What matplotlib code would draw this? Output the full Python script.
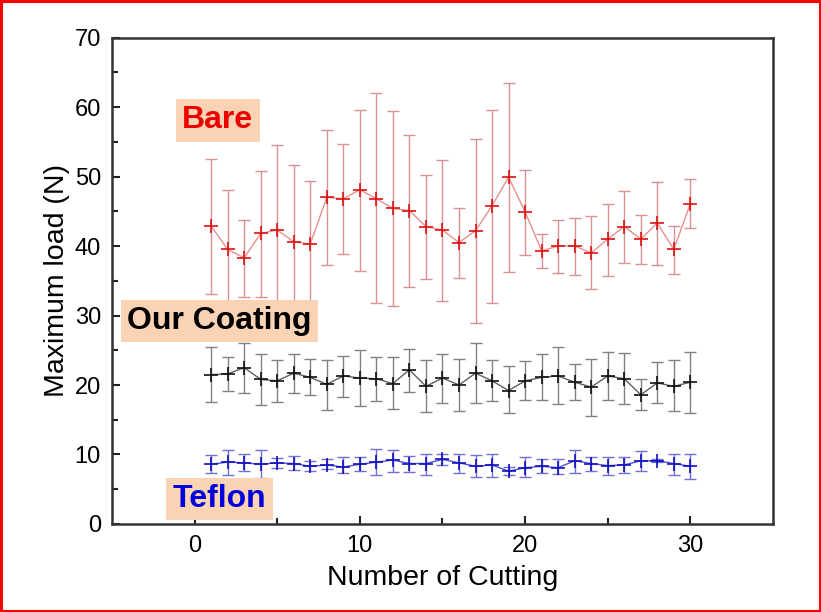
import numpy as np
import matplotlib
matplotlib.use("Agg")
import matplotlib.pyplot as plt
from matplotlib.patches import Rectangle

plt.rcParams['font.family'] = ['Liberation Sans', 'DejaVu Sans']

cuts = list(range(1, 31))

bare_mean = [42.9, 39.5, 38.3, 41.8, 42.3, 40.6, 40.3, 47.0, 46.8, 48.1,
             46.8, 45.4, 45.1, 42.8, 42.3, 40.5, 42.2, 45.8, 49.9, 44.9,
             39.3, 40.0, 40.0, 39.0, 41.0, 42.8, 41.0, 43.3, 39.5, 46.1]
bare_top = [52.5, 48.1, 43.8, 50.8, 54.6, 51.7, 49.3, 56.7, 54.7, 59.6,
            62.0, 59.4, 56.0, 50.2, 52.4, 45.5, 55.4, 59.6, 63.4, 50.9,
            41.7, 43.8, 44.1, 44.3, 46.1, 47.9, 44.5, 49.2, 42.9, 49.6]
bare_bot = [33.1, 30.9, 32.6, 32.7, 30.0, 29.5, 31.3, 37.2, 38.9, 36.4,
            31.8, 31.3, 34.1, 35.3, 32.1, 35.4, 28.9, 31.8, 36.2, 38.7,
            36.9, 36.1, 35.9, 33.8, 35.7, 37.6, 37.4, 37.2, 36.0, 42.6]

coat_mean = [21.5, 21.6, 22.5, 20.8, 20.6, 21.7, 21.1, 20.1, 21.3, 21.0,
             20.9, 20.2, 22.2, 19.8, 21.0, 20.0, 21.7, 20.6, 19.2, 20.6,
             21.1, 21.3, 20.4, 19.7, 21.3, 20.9, 18.6, 20.3, 19.8, 20.4]
coat_top = [25.5, 24.0, 26.0, 24.4, 23.6, 24.5, 23.7, 23.6, 24.2, 25.1,
            24.0, 24.0, 25.2, 23.6, 24.5, 23.8, 26.0, 23.6, 22.7, 23.4,
            24.5, 25.4, 23.0, 23.8, 24.7, 24.6, 20.9, 23.3, 23.6, 24.7]
coat_bot = [17.5, 19.2, 18.9, 17.1, 17.6, 18.9, 18.5, 16.4, 18.3, 17.0,
            17.7, 16.5, 19.0, 16.1, 17.4, 16.3, 17.4, 17.7, 15.9, 17.8,
            17.8, 17.2, 17.9, 15.6, 17.8, 17.2, 16.4, 17.4, 16.2, 16.0]

tef_mean = [8.6, 8.9, 8.8, 8.6, 8.8, 8.7, 8.3, 8.5, 8.2, 8.6,
            8.9, 9.2, 8.7, 8.7, 9.3, 8.8, 8.3, 8.5, 7.6, 8.1,
            8.3, 8.1, 9.1, 8.7, 8.4, 8.5, 9.1, 9.1, 8.7, 8.3]
tef_top = [9.9, 10.7, 10.0, 10.6, 9.5, 9.8, 9.0, 9.3, 9.7, 9.7,
           10.8, 10.7, 9.8, 10.1, 10.0, 10.1, 9.9, 10.1, 8.2, 9.6,
           9.3, 9.3, 10.6, 9.7, 9.6, 9.6, 10.5, 9.3, 10.1, 10.1]
tef_bot = [7.3, 7.1, 7.6, 6.6, 8.0, 7.8, 7.6, 7.9, 7.3, 7.6,
           7.0, 7.5, 7.5, 7.1, 8.5, 7.4, 6.7, 6.8, 7.0, 6.8,
           7.3, 7.2, 7.4, 7.6, 7.0, 7.3, 7.6, 8.9, 7.0, 6.5]

x_ticks = [0, 10, 20, 30]
y_ticks = [0, 10, 20, 30, 40, 50, 60, 70]

fig = plt.figure(figsize=(8.21, 6.12), dpi=100)
ax = fig.add_axes([0.1364, 0.1438, 0.8051, 0.7949])

def draw(mean, top, bot, line_c, err_c, mark_c):
    m = np.array(mean)
    yerr = [m - np.array(bot), np.array(top) - m]
    ax.errorbar(cuts, m, yerr=yerr, fmt='none', ecolor=err_c, elinewidth=1.0,
                capsize=4.3, capthick=1.0, zorder=2)
    ax.plot(cuts, m, color=line_c, lw=1.0, zorder=3)
    ax.plot(cuts, m, ls='none', marker='+', ms=9.5, mew=1.2, color=mark_c, zorder=4)

draw(bare_mean, bare_top, bare_bot, '#E89090', '#D89090', '#E01010')
draw(coat_mean, coat_top, coat_bot, '#606060', '#808080', '#101010')
draw(tef_mean, tef_top, tef_bot, '#5050D0', '#7070D8', '#1010C0')

ax.set_xlim(-5, 35)
ax.set_ylim(0, 70)
ax.set_xticks(x_ticks)
ax.set_yticks(y_ticks)
ax.set_xticks([5, 15, 25], minor=True)
ax.set_yticks([5, 15, 25, 35, 45, 55, 65], minor=True)
ax.tick_params(which='both', direction='in', top=False, right=False,
               width=1.5, color='#222222')
ax.tick_params(which='major', length=6, labelsize=17, pad=8)
ax.tick_params(which='minor', length=4)
for s in ax.spines.values():
    s.set_linewidth(1.8)
    s.set_color('#333333')

ax.set_xlabel('Number of Cutting', fontsize=20.5, labelpad=6)
ax.set_ylabel('Maximum load (N)', fontsize=20.5, labelpad=3)

box = dict(boxstyle='square,pad=0.2', fc='#FAD2B4', ec='none')
ax.text(1.4, 58.1, 'Bare', color='#EE0000', fontsize=23, fontweight='bold',
        ha='center', va='center', bbox=box, zorder=5)
ax.text(1.5, 29.2, 'Our Coating', color='black', fontsize=23, fontweight='bold',
        ha='center', va='center', bbox=box, zorder=5)
ax.text(1.5, 3.6, 'Teflon', color='#0000DD', fontsize=23, fontweight='bold',
        ha='center', va='center', bbox=box, zorder=5)

fig.patches.append(Rectangle((0.0015, 0.002), 0.997, 0.996, transform=fig.transFigure,
                             fill=False, ec='#FF0000', lw=2.2))

fig.savefig('out.png', dpi=100)
